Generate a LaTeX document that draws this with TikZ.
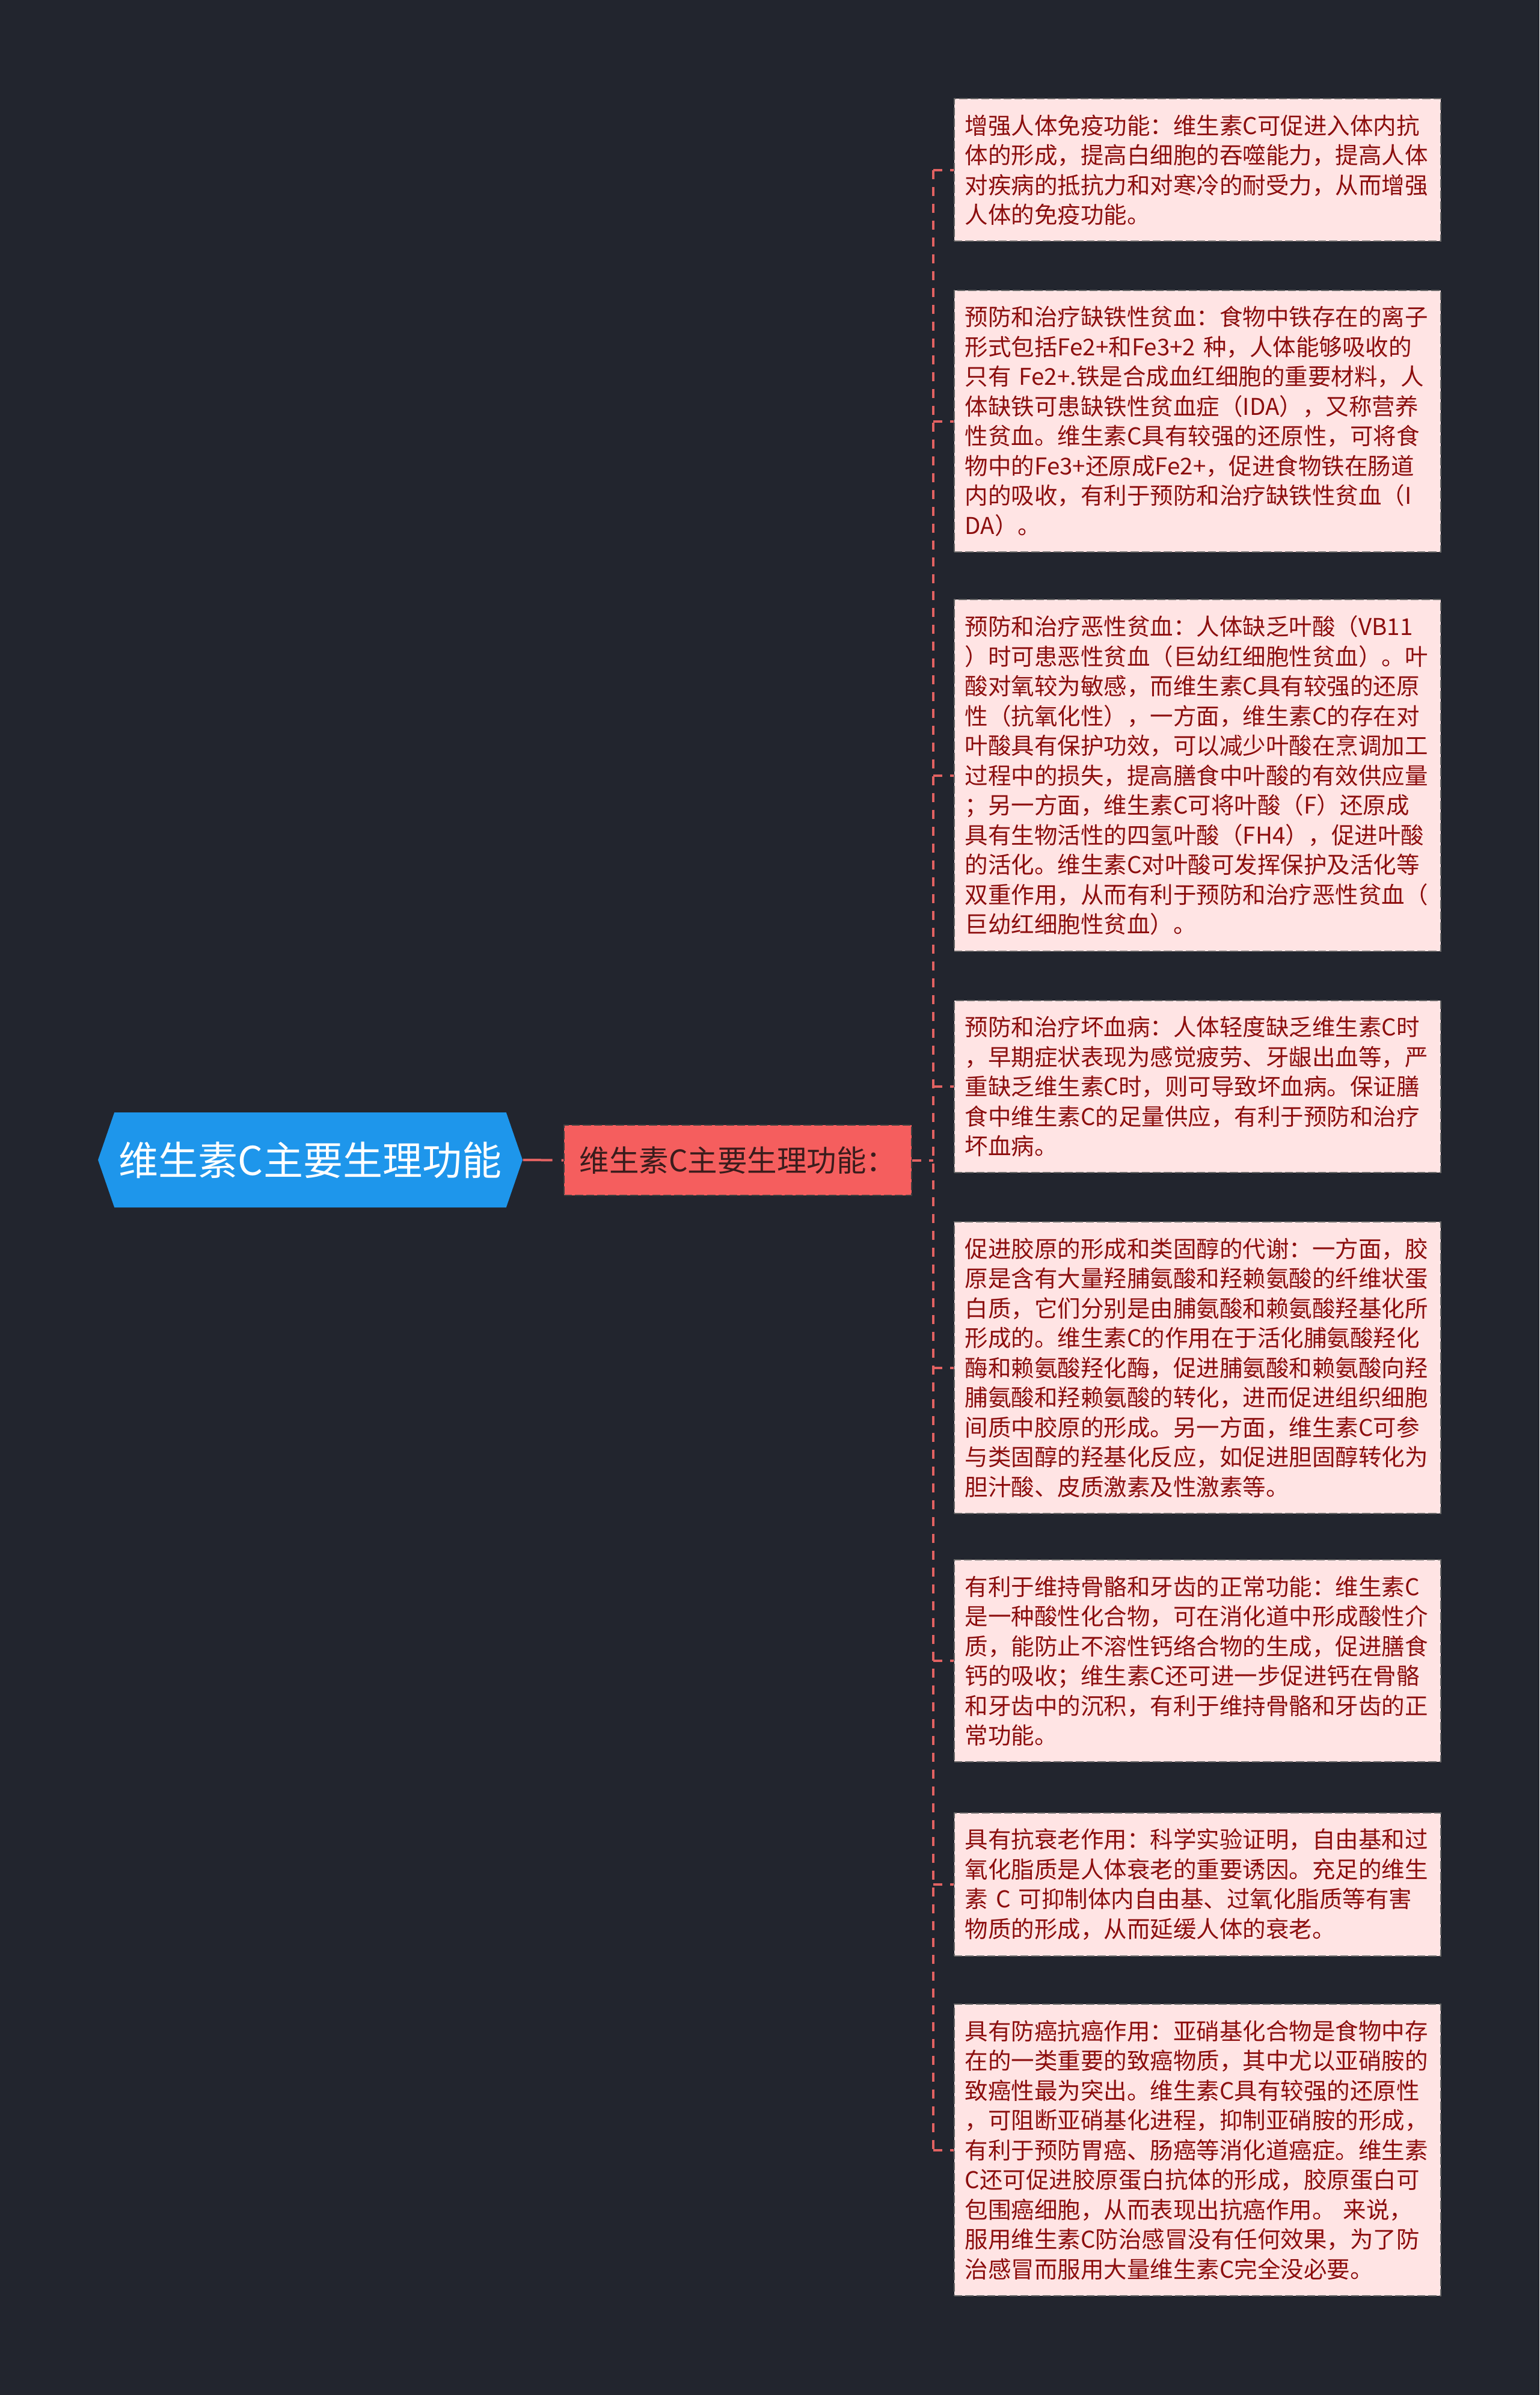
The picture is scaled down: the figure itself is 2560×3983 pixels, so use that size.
\documentclass[tikz,border=0pt]{standalone}
\usepackage{fontspec}
\setmainfont{Noto Sans CJK SC}
\usetikzlibrary{shapes.symbols}

\definecolor{bgdark}{RGB}{34,37,46}
\definecolor{rootblue}{RGB}{30,150,235}
\definecolor{midred}{RGB}{245,94,94}
\definecolor{midtext}{RGB}{58,28,28}
\definecolor{leafpink}{RGB}{255,228,228}
\definecolor{leaftext}{RGB}{140,14,14}
\definecolor{linkred}{RGB}{226,98,98}

\begin{document}
\begin{tikzpicture}[x=0.3pt,y=-0.3pt]
	\tikzstyle{root}=[signal, signal to=west and east, signal pointer angle=142, fill=rootblue, text=white, inner xsep=0pt, minimum width=211.8pt, minimum height=47.4pt, font=\fontsize{19.8}{24}\selectfont]
	\tikzstyle{branch}=[draw=black!75, line width=0.6pt, dash pattern=on 4pt off 1.5pt, fill=midred, text=midtext, minimum width=173.4pt, minimum height=35.1pt, font=\fontsize{14.85}{18}\selectfont]
	\tikzstyle{leaf}=[draw=black!60, line width=0.6pt, dash pattern=on 4pt off 1.5pt, fill=leafpink, text=leaftext, align=left, text width=232pt, minimum width=242.7pt, inner xsep=5pt, inner ysep=7.9pt, font=\fontsize{11.55}{14.85}\selectfont]
	\tikzstyle{link}=[draw=linkred, line width=1.2pt, dash pattern=on 4.5pt off 3.9pt]

	\fill [bgdark] (0,0) rectangle (2560,3983);
	\useasboundingbox (0,0) rectangle (2560,3983);

	\node (main) [root] at (516,1929) {维生素C主要生理功能};
	\node (func) [branch] at (1227,1929.5) {维生素C主要生理功能：};
	\coordinate (spine) at (1552,1929.5);

	\node (leaf1) [leaf] at (1991.5,282.5) {增强人体免疫功能：维生素C可促进入体内抗\\
		体的形成，提高白细胞的吞噬能力，提高人体\\
		对疾病的抵抗力和对寒冷的耐受力，从而增强\\
		人体的免疫功能。};
	\node (leaf2) [leaf] at (1991.5,700.5) {预防和治疗缺铁性贫血：食物中铁存在的离子\\
		形式包括Fe2+和Fe3+2 种，人体能够吸收的\\
		只有 Fe2+.铁是合成血红细胞的重要材料，人\\
		体缺铁可患缺铁性贫血症（IDA），又称营养\\
		性贫血。维生素C具有较强的还原性，可将食\\
		物中的Fe3+还原成Fe2+，促进食物铁在肠道\\
		内的吸收，有利于预防和治疗缺铁性贫血（I\\
		DA）。};
	\node (leaf3) [leaf] at (1991.5,1289.5) {预防和治疗恶性贫血：人体缺乏叶酸（VB11\\
		）时可患恶性贫血（巨幼红细胞性贫血）。叶\\
		酸对氧较为敏感，而维生素C具有较强的还原\\
		性（抗氧化性），一方面，维生素C的存在对\\
		叶酸具有保护功效，可以减少叶酸在烹调加工\\
		过程中的损失，提高膳食中叶酸的有效供应量\\
		；另一方面，维生素C可将叶酸（F）还原成\\
		具有生物活性的四氢叶酸（FH4），促进叶酸\\
		的活化。维生素C对叶酸可发挥保护及活化等\\
		双重作用，从而有利于预防和治疗恶性贫血（\\
		巨幼红细胞性贫血）。};
	\node (leaf4) [leaf] at (1991.5,1807) {预防和治疗坏血病：人体轻度缺乏维生素C时\\
		，早期症状表现为感觉疲劳、牙龈出血等，严\\
		重缺乏维生素C时，则可导致坏血病。保证膳\\
		食中维生素C的足量供应，有利于预防和治疗\\
		坏血病。};
	\node (leaf5) [leaf] at (1991.5,2274.5) {促进胶原的形成和类固醇的代谢：一方面，胶\\
		原是含有大量羟脯氨酸和羟赖氨酸的纤维状蛋\\
		白质，它们分别是由脯氨酸和赖氨酸羟基化所\\
		形成的。维生素C的作用在于活化脯氨酸羟化\\
		酶和赖氨酸羟化酶，促进脯氨酸和赖氨酸向羟\\
		脯氨酸和羟赖氨酸的转化，进而促进组织细胞\\
		间质中胶原的形成。另一方面，维生素C可参\\
		与类固醇的羟基化反应，如促进胆固醇转化为\\
		胆汁酸、皮质激素及性激素等。};
	\node (leaf6) [leaf] at (1991.5,2762) {有利于维持骨骼和牙齿的正常功能：维生素C\\
		是一种酸性化合物，可在消化道中形成酸性介\\
		质，能防止不溶性钙络合物的生成，促进膳食\\
		钙的吸收；维生素C还可进一步促进钙在骨骼\\
		和牙齿中的沉积，有利于维持骨骼和牙齿的正\\
		常功能。};
	\node (leaf7) [leaf] at (1991.5,3133.5) {具有抗衰老作用：科学实验证明，自由基和过\\
		氧化脂质是人体衰老的重要诱因。充足的维生\\
		素 C 可抑制体内自由基、过氧化脂质等有害\\
		物质的形成，从而延缓人体的衰老。};
	\node (leaf8) [leaf] at (1991.5,3575.5) {具有防癌抗癌作用：亚硝基化合物是食物中存\\
		在的一类重要的致癌物质，其中尤以亚硝胺的\\
		致癌性最为突出。维生素C具有较强的还原性\\
		，可阻断亚硝基化进程，抑制亚硝胺的形成，\\
		有利于预防胃癌、肠癌等消化道癌症。维生素\\
		C还可促进胶原蛋白抗体的形成，胶原蛋白可\\
		包围癌细胞，从而表现出抗癌作用。 来说，\\
		服用维生素C防治感冒没有任何效果，为了防\\
		治感冒而服用大量维生素C完全没必要。};

	\draw [link, dash pattern=on 14.7pt off 4.5pt] (main.east) -- (func.west);
	\draw [link] (func.east) -- (spine);
	\draw [link] (leaf1.west -| spine) -- (leaf8.west -| spine);
	\foreach \i in {1,...,8}
		\draw [link] (leaf\i.west -| spine) -- (leaf\i.west);
\end{tikzpicture}
\end{document}
